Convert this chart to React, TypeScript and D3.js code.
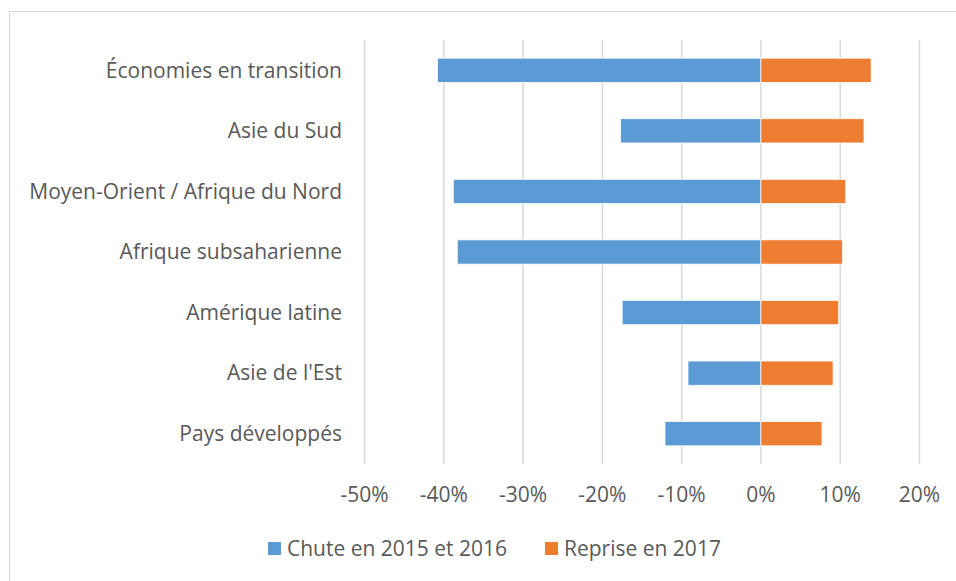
import * as d3 from 'd3';

const categories = [
  'Économies en transition',
  'Asie du Sud',
  'Moyen-Orient / Afrique du Nord',
  'Afrique subsaharienne',
  'Amérique latine',
  "Asie de l'Est",
  'Pays développés',
];
const chute = [-0.408, -0.177, -0.388, -0.383, -0.175, -0.092, -0.121];
const reprise = [0.139, 0.130, 0.107, 0.103, 0.098, 0.091, 0.077];
const ticks = [-0.5, -0.4, -0.3, -0.2, -0.1, 0, 0.1, 0.2];
const seriesNames = ['Chute en 2015 et 2016', 'Reprise en 2017'];
const colors = ['#5b9bd5', '#ed7d31'];

const W = 956, H = 581;
const FONT = '"Open Sans", "Liberation Sans", sans-serif';
const TEXT = '#595959';
const FS = 21;

export default function App() {
  const x = d3.scaleLinear().domain([-0.5, 0.2]).range([364.5, 919.5]);
  const y = d3.scaleBand<string>().domain(categories).range([40, 464]).paddingInner(0.6).paddingOuter(0.3);
  // Excel style: plain hyphen for negatives
  const fmt = (t: number) => d3.format('.0%')(t).replace('\u2212', '-');

  return (
    <svg width={W} height={H} style={{ position: 'absolute', left: 0, top: 0, background: '#fff' }}>
      <rect x={9.5} y={11.5} width={W} height={H} fill="#fff" stroke="#d9d9d9" />

      {/* gridlines */}
      {ticks.map(t => (
        <line key={t} x1={x(t)} x2={x(t)} y1={40} y2={464} stroke="#d9d9d9" strokeWidth={1.5} />
      ))}

      {/* bars */}
      {categories.map((c, i) => (
        <g key={c}>
          <rect x={x(chute[i])} y={y(c)} width={x(0) - x(chute[i])} height={y.bandwidth()}
            fill={colors[0]} stroke="#fff" strokeWidth={0.75} />
          <rect x={x(0)} y={y(c)} width={x(reprise[i]) - x(0)} height={y.bandwidth()}
            fill={colors[1]} stroke="#fff" strokeWidth={0.75} />
          <text x={342} y={y(c)! + y.bandwidth() / 2} dy="0.35em" textAnchor="end"
            fontFamily={FONT} fontSize={FS} fill={TEXT}>{c}</text>
        </g>
      ))}

      {/* tick labels */}
      {ticks.map(t => (
        <text key={t} x={x(t)} y={495} dy="0.35em" textAnchor="middle"
          fontFamily={FONT} fontSize={FS} fill={TEXT}>{fmt(t)}</text>
      ))}

      {/* legend */}
      {[268, 545].map((lx, i) => (
        <g key={i}>
          <rect x={lx} y={542} width={13} height={13} fill={colors[i]} />
          <text x={lx + 19} y={548.5} dy="0.35em" fontFamily={FONT} fontSize={FS} fill={TEXT}>
            {seriesNames[i]}
          </text>
        </g>
      ))}
    </svg>
  );
}
